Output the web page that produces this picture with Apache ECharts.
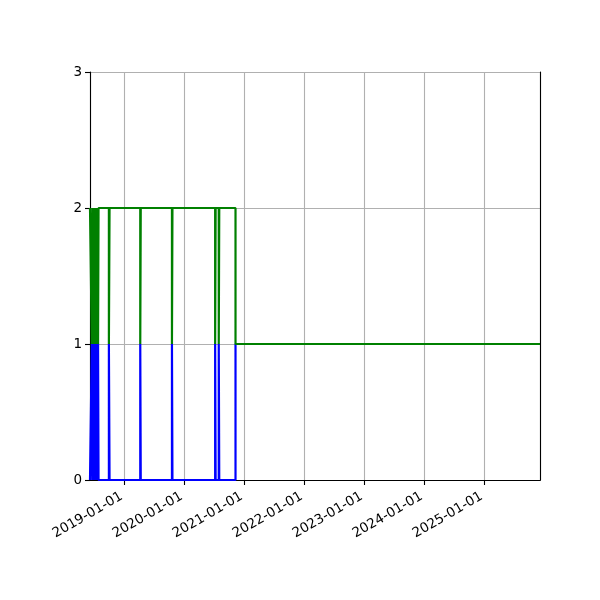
<!DOCTYPE html>
<html>
<head>
<meta charset="utf-8">
<script src="https://cdn.jsdelivr.net/npm/echarts@6/dist/echarts.min.js"></script>
<style>
html,body{margin:0;padding:0;background:#fff;}
#chart{width:600px;height:600px;}
</style>
</head>
<body>
<div id="chart"></div>
<script>
// Change-point dates (step "post")
var dates = [
  '2018-06-06',
  '2018-06-17','2018-06-20',
  '2018-06-21','2018-06-24',
  '2018-06-25','2018-06-28',
  '2018-06-29','2018-07-02',
  '2018-07-03','2018-07-06',
  '2018-07-13','2018-07-16',
  '2018-07-17','2018-07-20',
  '2018-07-21','2018-07-24',
  '2018-07-25','2018-07-28',
  '2018-09-29','2018-10-03',
  '2019-04-08','2019-04-11',
  '2019-10-18','2019-10-21',
  '2020-07-07','2020-07-10',
  '2020-07-29','2020-08-01',
  '2020-11-08',
  '2025-12-06'
];
var blueValues  = [0, 1,0, 1,0, 1,0, 1,0, 1,0, 1,0, 1,0, 1,0, 1,0, 1,0, 1,0, 1,0, 1,0, 1,0, 1, 1];
var greenValues = [2, 1,2, 1,2, 1,2, 1,2, 1,2, 1,2, 1,2, 1,2, 1,2, 1,2, 1,2, 1,2, 1,2, 1,2, 1, 1];
var yTicks = [0, 1, 2, 3];
var xMin = '2018-06-06';
var xMax = '2025-12-06';

function pairs(vals) {
  return dates.map(function (d, i) { return [d, vals[i]]; });
}

var ONE_YEAR = 365 * 24 * 3600 * 1000;
var font = 'DejaVu Sans';
var spine = {show: true, lineStyle: {color: '#000', width: 1.1}};
var chart = echarts.init(document.getElementById('chart'), null, {renderer: 'canvas'});
chart.setOption({
  animation: false,
  backgroundColor: '#fff',
  grid: {left: 90, right: 60, top: 72, bottom: 120},
  xAxis: [{
    type: 'time',
    min: xMin,
    max: xMax,
    splitNumber: 7,
    minInterval: ONE_YEAR,
    maxInterval: ONE_YEAR * 1.05,
    axisLine: spine,
    axisTick: {show: true, length: 5, lineStyle: {color: '#000', width: 1.1}},
    splitLine: {show: true, lineStyle: {color: '#b0b0b0', width: 1.1}},
    axisLabel: {
      rotate: 30,
      margin: 14,
      padding: [0, 3, 0, 0],
      fontFamily: font,
      fontSize: 13.5,
      color: '#000',
      showMinLabel: false,
      showMaxLabel: false,
      formatter: '{yyyy}-{MM}-{dd}'
    }
  }, {
    type: 'time',
    position: 'top',
    min: xMin,
    max: xMax,
    axisLine: spine,
    axisTick: {show: false},
    axisLabel: {show: false},
    splitLine: {show: false}
  }],
  yAxis: [{
    type: 'value',
    min: yTicks[0],
    max: yTicks[yTicks.length - 1],
    interval: 1,
    axisLine: spine,
    axisTick: {show: true, length: 5, lineStyle: {color: '#000', width: 1.1}},
    splitLine: {show: true, lineStyle: {color: '#b0b0b0', width: 1.1}},
    axisLabel: {margin: 8, fontFamily: font, fontSize: 13.5, color: '#000'}
  }, {
    type: 'value',
    position: 'right',
    min: yTicks[0],
    max: yTicks[yTicks.length - 1],
    interval: 1,
    axisLine: spine,
    axisTick: {show: false},
    axisLabel: {show: false},
    splitLine: {show: false}
  }],
  series: [
    {
      type: 'line',
      step: 'end',
      data: pairs(blueValues),
      showSymbol: false,
      lineStyle: {color: '#0000ff', width: 2.2},
      itemStyle: {color: '#0000ff'},
      z: 2
    },
    {
      type: 'line',
      step: 'end',
      data: pairs(greenValues),
      showSymbol: false,
      lineStyle: {color: '#008000', width: 2.2},
      itemStyle: {color: '#008000'},
      z: 3
    }
  ]
});
</script>
</body>
</html>
